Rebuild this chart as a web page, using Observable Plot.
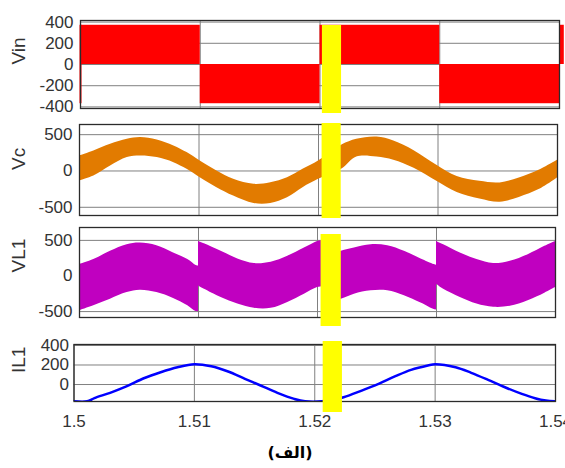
<!DOCTYPE html>
<html><head><meta charset="utf-8">
<script src="https://cdn.jsdelivr.net/npm/d3@7"></script>
<script src="https://cdn.jsdelivr.net/npm/@observablehq/plot@0.6"></script>
<style>
body{margin:0;background:#fff;}
#root{position:relative;width:565px;height:468px;overflow:hidden;background:#fff;}
.panel{position:absolute;left:0;}
#caption{position:absolute;left:240px;width:100px;top:443px;text-align:center;font-family:"DejaVu Sans",sans-serif;font-weight:bold;font-size:16px;color:#000;}
</style></head><body><div id="root"></div>
<script>
// ---- shared x axis ----
const xDomain = [1.5, 1.54];
const xTicks = [1.5, 1.51, 1.52, 1.53, 1.54];
const xTickLabels = ["1.5", "1.51", "1.52", "1.53", "1.54"];
const panelLabels = ["Vin", "Vc", "VL1", "IL1"];

// yellow mask over the chart (per panel, start/end time)
const maskStart = [1.5202, 1.5203, 1.5203, 1.5207];
const maskEnd   = [1.5218, 1.5219, 1.5220, 1.5223];

// ---- Vin: PWM blocks ----
const vinStart = [1.5, 1.51, 1.52, 1.53, 1.54];
const vinEnd   = [1.51, 1.52, 1.53, 1.54, 1.5404];
const vinLow   = [0, -370, 0, -370, 0];
const vinHigh  = [370, 0, 370, 0, 370];
const vinEdgeT = [1.5];
const vinEdgeLow = [-370];
const vinEdgeHigh = [370];
const vinTicks = [-400, -200, 0, 200, 400];

// ---- Vc: ripple band (upper / lower envelope) ----
const vcT  = [1.5,1.5012,1.5026,1.504,1.5051,1.5065,1.5079,1.509,1.5101,1.5115,1.5129,1.5146,1.516,1.5174,1.5187,1.52,1.521,1.522,1.5232,1.5249,1.5263,1.528,1.5299,1.5316,1.5335,1.5352,1.5368,1.5385,1.54];
const vcHi = [207,276,369,437,460,428,345,253,138,0,-115,-184,-161,-92,23,138,250,360,436,467,413,280,80,-76,-143,-164,-97,13,147];
const vcLo = [-138,-69,69,184,207,184,115,23,-92,-230,-345,-447,-447,-368,-230,-115,-40,30,191,191,147,36,-143,-297,-387,-431,-364,-253,-97];
const vcTicks = [-500, 0, 500];

// ---- VL1: ripple band, four segments ----
const vl1T   = [1.5,1.5012,1.5026,1.504,1.5051,1.5065,1.5079,1.5091,1.5098,1.51,
                1.51,1.5105,1.5119,1.5133,1.5147,1.5161,1.5175,1.5189,1.52,1.5204,
                1.5204,1.522,1.5231,1.5245,1.5259,1.5273,1.5287,1.5298,1.53,
                1.53,1.5306,1.532,1.5334,1.5348,1.5362,1.5377,1.5391,1.54];
const vl1Hi  = [161,231,347,439,462,425,324,231,147,140,
                486,453,347,240,175,194,278,393,486,500,
                250,347,393,439,425,347,240,161,150,
                486,439,324,231,175,208,300,417,486];
const vl1Lo  = [-486,-417,-325,-232,-200,-232,-315,-417,-500,-505,
                -139,-186,-301,-394,-454,-454,-371,-255,-162,-150,
                -400,-325,-255,-208,-208,-278,-380,-472,-480,
                -116,-186,-301,-394,-440,-426,-347,-241,-162];
const vl1Seg = [1,1,1,1,1,1,1,1,1,1, 2,2,2,2,2,2,2,2,2,2, 3,3,3,3,3,3,3,3,3, 4,4,4,4,4,4,4,4,4];
const vl1Ticks = [-500, 0, 500];

// ---- IL1 ----
const il1T = [1.5,1.5011,1.5017,1.503,1.5044,1.5058,1.5072,1.5086,1.51,1.5114,1.5128,1.5142,1.5155,1.5169,1.5183,1.5192,1.5206,1.5224,1.5239,1.5253,1.5267,1.528,1.5294,1.53,1.5317,1.533,1.5344,1.5358,1.5372,1.5383,1.5392,1.54];
const il1V = [-172,-172,-139,-85,-17,64,126,177,208,187,133,58,-10,-85,-147,-172,-172,-130,-62,7,85,150,195,208,177,120,48,-28,-96,-140,-164,-172];
const il1Ticks = [0, 200, 400];

// ---- tables built from arrays ----
const vinRows = vinStart.map((s, i) => ({x1: s, x2: vinEnd[i], lo: vinLow[i], hi: vinHigh[i]}));
const vinEdgeRows = vinEdgeT.map((t, i) => ({t, lo: vinEdgeLow[i], hi: vinEdgeHigh[i]}));
const vcRows = vcT.map((t, i) => ({t, lo: vcLo[i], hi: vcHi[i]}));
const vl1Rows = vl1T.map((t, i) => ({t, lo: vl1Lo[i], hi: vl1Hi[i], seg: vl1Seg[i]}));
const il1Rows = il1T.map((t, i) => ({t, v: il1V[i]}));

const gridColor = "#808080";
const textColor = "#333333";

function makePanel(o) {
  const marks = [
    Plot.gridX(xTicks, {stroke: gridColor, strokeOpacity: 1, strokeWidth: 1}),
    Plot.gridY(o.yTicks, {stroke: gridColor, strokeOpacity: 1, strokeWidth: 1}),
    ...o.marks,
    Plot.frame({stroke: "#2b2b2b", strokeWidth: 1.3}),
    Plot.rect([o.idx], {x1: i => maskStart[i], x2: i => maskEnd[i], fill: "#ffff00", insetTop: o.insetTop, insetBottom: o.insetBottom}),
    Plot.axisY(o.yTicks, {tickSize: 0, tickPadding: o.tickPad, tickFormat: d => String(d), fontSize: 17, label: null}),
    Plot.text([panelLabels[o.idx]], {frameAnchor: "left", dx: -(o.ml - 18), rotate: -90, text: d => d, fontSize: 19, fill: textColor})
  ];
  if (o.xAxis) marks.push(Plot.axisX(xTicks, {tickSize: 0, tickPadding: 13, tickFormat: d => xTickLabels[xTicks.indexOf(d)], fontSize: 17, label: null}));
  const svg = Plot.plot({
    width: 565, height: o.height,
    marginTop: o.mt, marginBottom: o.mb, marginLeft: o.ml, marginRight: o.mr,
    style: {fontFamily: "'Liberation Sans', Arial, sans-serif", fontSize: "17px", color: textColor, background: "transparent", overflow: "visible"},
    x: {domain: xDomain, axis: o.xAxis ? undefined : null},
    y: {domain: o.yDomain},
    marks
  });
  const div = document.createElement("div");
  div.className = "panel";
  div.style.top = o.top + "px";
  div.appendChild(svg);
  document.getElementById("root").appendChild(div);
}

makePanel({idx: 0, top: 0, height: 115, mt: 20, mb: 7, ml: 80, mr: 6, yDomain: [-415, 415], yTicks: vinTicks, tickPad: 7, insetTop: 5, insetBottom: -5,
  marks: [
    Plot.rect(vinRows, {x1: "x1", x2: "x2", y1: "lo", y2: "hi", fill: "#ff0000"}),
    Plot.ruleX(vinEdgeRows, {x: "t", y1: "lo", y2: "hi", stroke: "#ff0000", strokeWidth: 2})
  ]});

makePanel({idx: 1, top: 115, height: 107, mt: 9, mb: 7, ml: 79, mr: 8, yDomain: [-613, 640], yTicks: vcTicks, tickPad: 7, insetTop: -1, insetBottom: -3,
  marks: [
    Plot.areaY(vcRows, {x: "t", y1: "lo", y2: "hi", fill: "#e27b00", curve: "catmull-rom", clip: true})
  ]});

makePanel({idx: 2, top: 222, height: 108, mt: 5, mb: 13, ml: 79, mr: 10, yDomain: [-583, 681], yTicks: vl1Ticks, tickPad: 7, insetTop: 7, insetBottom: -9,
  marks: [
    Plot.areaY(vl1Rows, {x: "t", y1: "lo", y2: "hi", z: "seg", fill: "#c000c0", curve: "catmull-rom", clip: true})
  ]});

makePanel({idx: 3, top: 330, height: 100, mt: 14, mb: 29, ml: 73.5, mr: 10, yDomain: [-174, 410], yTicks: il1Ticks, tickPad: 5, insetTop: -3, insetBottom: -11, xAxis: true,
  marks: [
    Plot.line(il1Rows, {x: "t", y: "v", stroke: "#0000ff", strokeWidth: 2.5, curve: "catmull-rom", clip: true})
  ]});

const cap = document.createElement("div");
cap.id = "caption";
cap.textContent = "(الف)";
document.getElementById("root").appendChild(cap);
</script>
</body></html>
